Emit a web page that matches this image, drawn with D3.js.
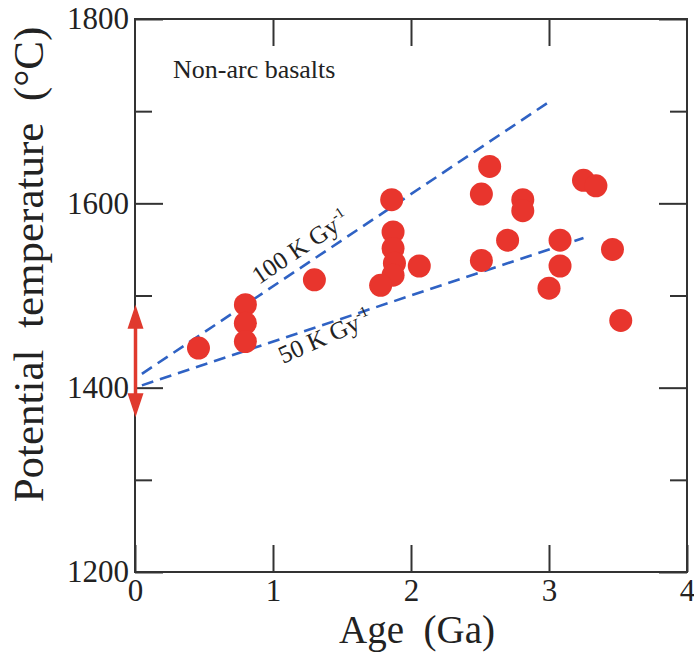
<!DOCTYPE html>
<html>
<head>
<meta charset="utf-8">
<script src="https://cdn.jsdelivr.net/npm/d3@7"></script>
<style>
  html, body { margin: 0; padding: 0; background: #fff; }
  svg { display: block; }
  svg text { font-family: "Liberation Serif", "DejaVu Serif", serif !important; fill: #222; }
</style>
</head>
<body>
<svg id="chart" width="694" height="652"></svg>
<script>
// ---- data ----
const ages  = [0.46, 0.80, 0.80, 0.80, 1.30, 1.86, 1.87, 1.87, 1.88, 1.87, 1.78, 2.06,
               2.57, 2.51, 2.81, 2.81, 2.70, 2.51, 3.08, 3.08, 3.00, 3.25, 3.34, 3.46, 3.52];
const temps = [1443, 1490, 1470, 1450, 1517, 1604, 1569, 1551, 1535, 1522, 1511, 1532,
               1640, 1610, 1604, 1592, 1560, 1538, 1560, 1532, 1508, 1625, 1619, 1550, 1473];

const xTicks = [0, 1, 2, 3, 4];
const yMajor = [1200, 1400, 1600, 1800];
const yMinor = [1300, 1500, 1700];

const rateLabels = ["100 K Gy", "50 K Gy"];
const rates      = [100, 50];
const intercepts = [1410, 1400];
const lineStart  = [0.05, 0.05];
const lineEnd    = [3.0, 3.25];

const arrowRange = [1368, 1490];   // ambient-mantle range at present day

// ---- layout ----
const FONT = "Liberation Serif, DejaVu Serif, serif";
const svg = d3.select("#chart");
const x = d3.scaleLinear().domain([0, 4]).range([135, 687]);
const y = d3.scaleLinear().domain([1200, 1800]).range([572, 19]);

const axisColor = "#333";
const majorX = 27, majorY = 28, minorY = 17;

function styleAxis(g) {
  g.attr("font-family", FONT);
  g.select(".domain").remove();
  g.selectAll(".tick line").attr("stroke", axisColor).attr("stroke-width", 2);
  g.selectAll(".tick text").attr("font-family", FONT)
    .attr("font-size", 31).attr("fill", "#222");
}

// bottom axis with labels
svg.append("g").attr("transform", `translate(0,${y(1200)})`)
  .call(d3.axisBottom(x).tickValues(xTicks).tickFormat(d3.format("d"))
        .tickSizeInner(-majorX).tickSizeOuter(0).tickPadding(7))
  .call(styleAxis);
// top axis
svg.append("g").attr("transform", `translate(0,${y(1800)})`)
  .call(d3.axisTop(x).tickValues(xTicks.slice(1, -1)).tickFormat("")
        .tickSizeInner(-majorX).tickSizeOuter(0))
  .call(styleAxis);
// left axis
svg.append("g").attr("transform", `translate(${x(0)},0)`)
  .call(d3.axisLeft(y).tickValues(yMajor).tickFormat(d3.format("d"))
        .tickSizeInner(-majorY).tickSizeOuter(0).tickPadding(6))
  .call(styleAxis);
svg.append("g").attr("transform", `translate(${x(0)},0)`)
  .call(d3.axisLeft(y).tickValues(yMinor).tickFormat("")
        .tickSizeInner(-minorY).tickSizeOuter(0))
  .call(styleAxis);
// right axis
svg.append("g").attr("transform", `translate(${x(4)},0)`)
  .call(d3.axisRight(y).tickValues(yMajor).tickFormat("")
        .tickSizeInner(-majorY).tickSizeOuter(0))
  .call(styleAxis);
svg.append("g").attr("transform", `translate(${x(4)},0)`)
  .call(d3.axisRight(y).tickValues(yMinor).tickFormat("")
        .tickSizeInner(-minorY).tickSizeOuter(0))
  .call(styleAxis);

// frame
svg.append("rect")
  .attr("x", x(0)).attr("y", y(1800))
  .attr("width", x(4) - x(0)).attr("height", y(1200) - y(1800))
  .attr("fill", "none").attr("stroke", axisColor).attr("stroke-width", 2);

// dashed trend lines
const lineGen = d3.line().x(d => x(d[0])).y(d => y(d[1]));
rates.forEach((r, i) => {
  const pts = [lineStart[i], lineEnd[i]].map(a => [a, intercepts[i] + r * a]);
  svg.append("path").attr("d", lineGen(pts))
    .attr("fill", "none").attr("stroke", "#2f62c4")
    .attr("stroke-width", 2.6).attr("stroke-dasharray", "12,7");
});

// points
svg.append("g").selectAll("circle")
  .data(ages.map((a, i) => [a, temps[i]]))
  .join("circle")
  .attr("cx", d => x(d[0])).attr("cy", d => y(d[1]))
  .attr("r", 11.5)
  .attr("fill", "#e8352d");

// double-headed arrow at age 0
const ax = x(0) + 0.5;
const yTop = y(arrowRange[1]), yBot = y(arrowRange[0]);
const headL = 24, headW = 8;
const arrowColor = "#e03a2e";
svg.append("line").attr("x1", ax).attr("x2", ax)
  .attr("y1", yTop + headL - 2).attr("y2", yBot - headL + 2)
  .attr("stroke", arrowColor).attr("stroke-width", 3.5);
svg.append("path")
  .attr("d", `M${ax},${yTop} L${ax - headW},${yTop + headL} L${ax + headW},${yTop + headL} Z`)
  .attr("fill", arrowColor);
svg.append("path")
  .attr("d", `M${ax},${yBot} L${ax - headW},${yBot - headL} L${ax + headW},${yBot - headL} Z`)
  .attr("fill", arrowColor);

// line labels
const labelPos = [[259, 285, -34], [283, 364, -24]];
rateLabels.forEach((t, i) => {
  const [lx, ly, rot] = labelPos[i];
  const txt = svg.append("text")
    .attr("transform", `translate(${lx},${ly}) rotate(${rot})`)
    .attr("font-family", FONT)
    .attr("font-size", 25).style("white-space", "pre");
  txt.append("tspan").text(t);
  txt.append("tspan").attr("dy", -10).attr("font-size", 15).text("-1");
});

// annotation
svg.append("text").attr("x", 173).attr("y", 78)
  .attr("font-family", FONT)
  .attr("font-size", 26).text("Non-arc basalts");

// axis titles
svg.append("text")
  .attr("x", (x(0) + x(4)) / 2 + 6).attr("y", 643)
  .attr("font-family", FONT)
  .attr("text-anchor", "middle").attr("font-size", 39)
  .style("white-space", "pre").text("Age  (Ga)");
svg.append("text")
  .attr("transform", `translate(43,${(y(1200) + y(1800)) / 2 - 31}) rotate(-90)`)
  .attr("font-family", FONT)
  .attr("text-anchor", "middle").attr("font-size", 43)
  .style("white-space", "pre").text("Potential  temperature  (°C)");
</script>
</body>
</html>
